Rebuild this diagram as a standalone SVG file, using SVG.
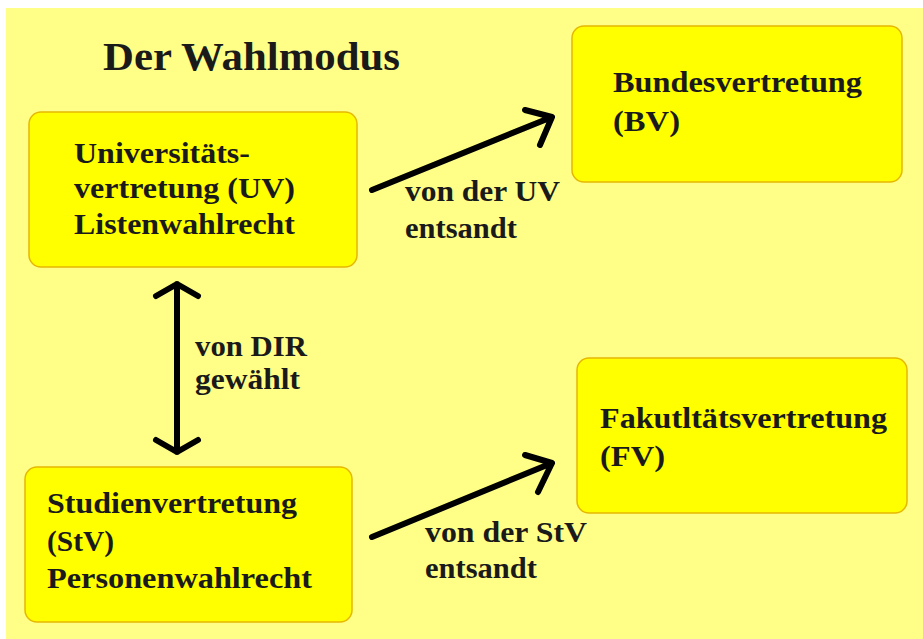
<svg xmlns="http://www.w3.org/2000/svg" width="923" height="639" viewBox="0 0 923 639">
<style>
.box{fill:#FFFF00;stroke:#E6B800;stroke-width:1.5}
.t{font-family:"Liberation Serif","Times New Roman",serif;font-weight:bold;font-size:30px;fill:#1a1a1a}
.c{fill:none;stroke:#000;stroke-width:6;stroke-linecap:round;stroke-linejoin:round}
</style>
<rect width="923" height="639" fill="#ffffff"/>
<rect x="6" y="8" width="917" height="631" fill="#FFFF88"/>
<text class="t" x="103" y="70" font-size="40" style="font-size:40px" textLength="297" lengthAdjust="spacingAndGlyphs">Der Wahlmodus</text>
<g id="uv">
<rect class="box" x="29" y="112" width="328" height="155" rx="12"/>
<text class="t" x="74" y="163" textLength="176" lengthAdjust="spacingAndGlyphs">Universitäts-</text>
<text class="t" x="74" y="198" textLength="221" lengthAdjust="spacingAndGlyphs">vertretung (UV)</text>
<text class="t" x="74" y="234" textLength="221" lengthAdjust="spacingAndGlyphs">Listenwahlrecht</text>
</g>
<g id="bv">
<rect class="box" x="572" y="26" width="330" height="156" rx="12"/>
<text class="t" x="613" y="92" textLength="249" lengthAdjust="spacingAndGlyphs">Bundesvertretung</text>
<text class="t" x="613" y="131" textLength="67" lengthAdjust="spacingAndGlyphs">(BV)</text>
</g>
<g id="fv">
<rect class="box" x="577" y="358" width="330" height="155" rx="12"/>
<text class="t" x="600" y="428" textLength="287" lengthAdjust="spacingAndGlyphs">Fakutltätsvertretung</text>
<text class="t" x="600" y="466" textLength="65" lengthAdjust="spacingAndGlyphs">(FV)</text>
</g>
<g id="stv">
<rect class="box" x="25" y="467" width="327" height="155" rx="12"/>
<text class="t" x="47" y="513" textLength="250" lengthAdjust="spacingAndGlyphs">Studienvertretung</text>
<text class="t" x="47" y="551" textLength="67" lengthAdjust="spacingAndGlyphs">(StV)</text>
<text class="t" x="47" y="588" textLength="265" lengthAdjust="spacingAndGlyphs">Personenwahlrecht</text>
</g>
<g id="connectors">
<path class="c" d="M372 190 L552 117 M525 110 L552 117 L540 145"/>
<path class="c" d="M372 537 L552 463 M525 455 L552 463 L538 492"/>
<path class="c" d="M177 284 L177 452 M156 296 L177 284 L198 296 M156 440 L177 452 L198 440"/>
<text class="t" x="405" y="201" textLength="155" lengthAdjust="spacingAndGlyphs">von der UV</text>
<text class="t" x="405" y="238" textLength="112" lengthAdjust="spacingAndGlyphs">entsandt</text>
<text class="t" x="425" y="542" textLength="162" lengthAdjust="spacingAndGlyphs">von der StV</text>
<text class="t" x="425" y="578" textLength="112" lengthAdjust="spacingAndGlyphs">entsandt</text>
<text class="t" x="195" y="356" textLength="112" lengthAdjust="spacingAndGlyphs">von DIR</text>
<text class="t" x="195" y="389" textLength="105" lengthAdjust="spacingAndGlyphs">gewählt</text>
</g>
</svg>
